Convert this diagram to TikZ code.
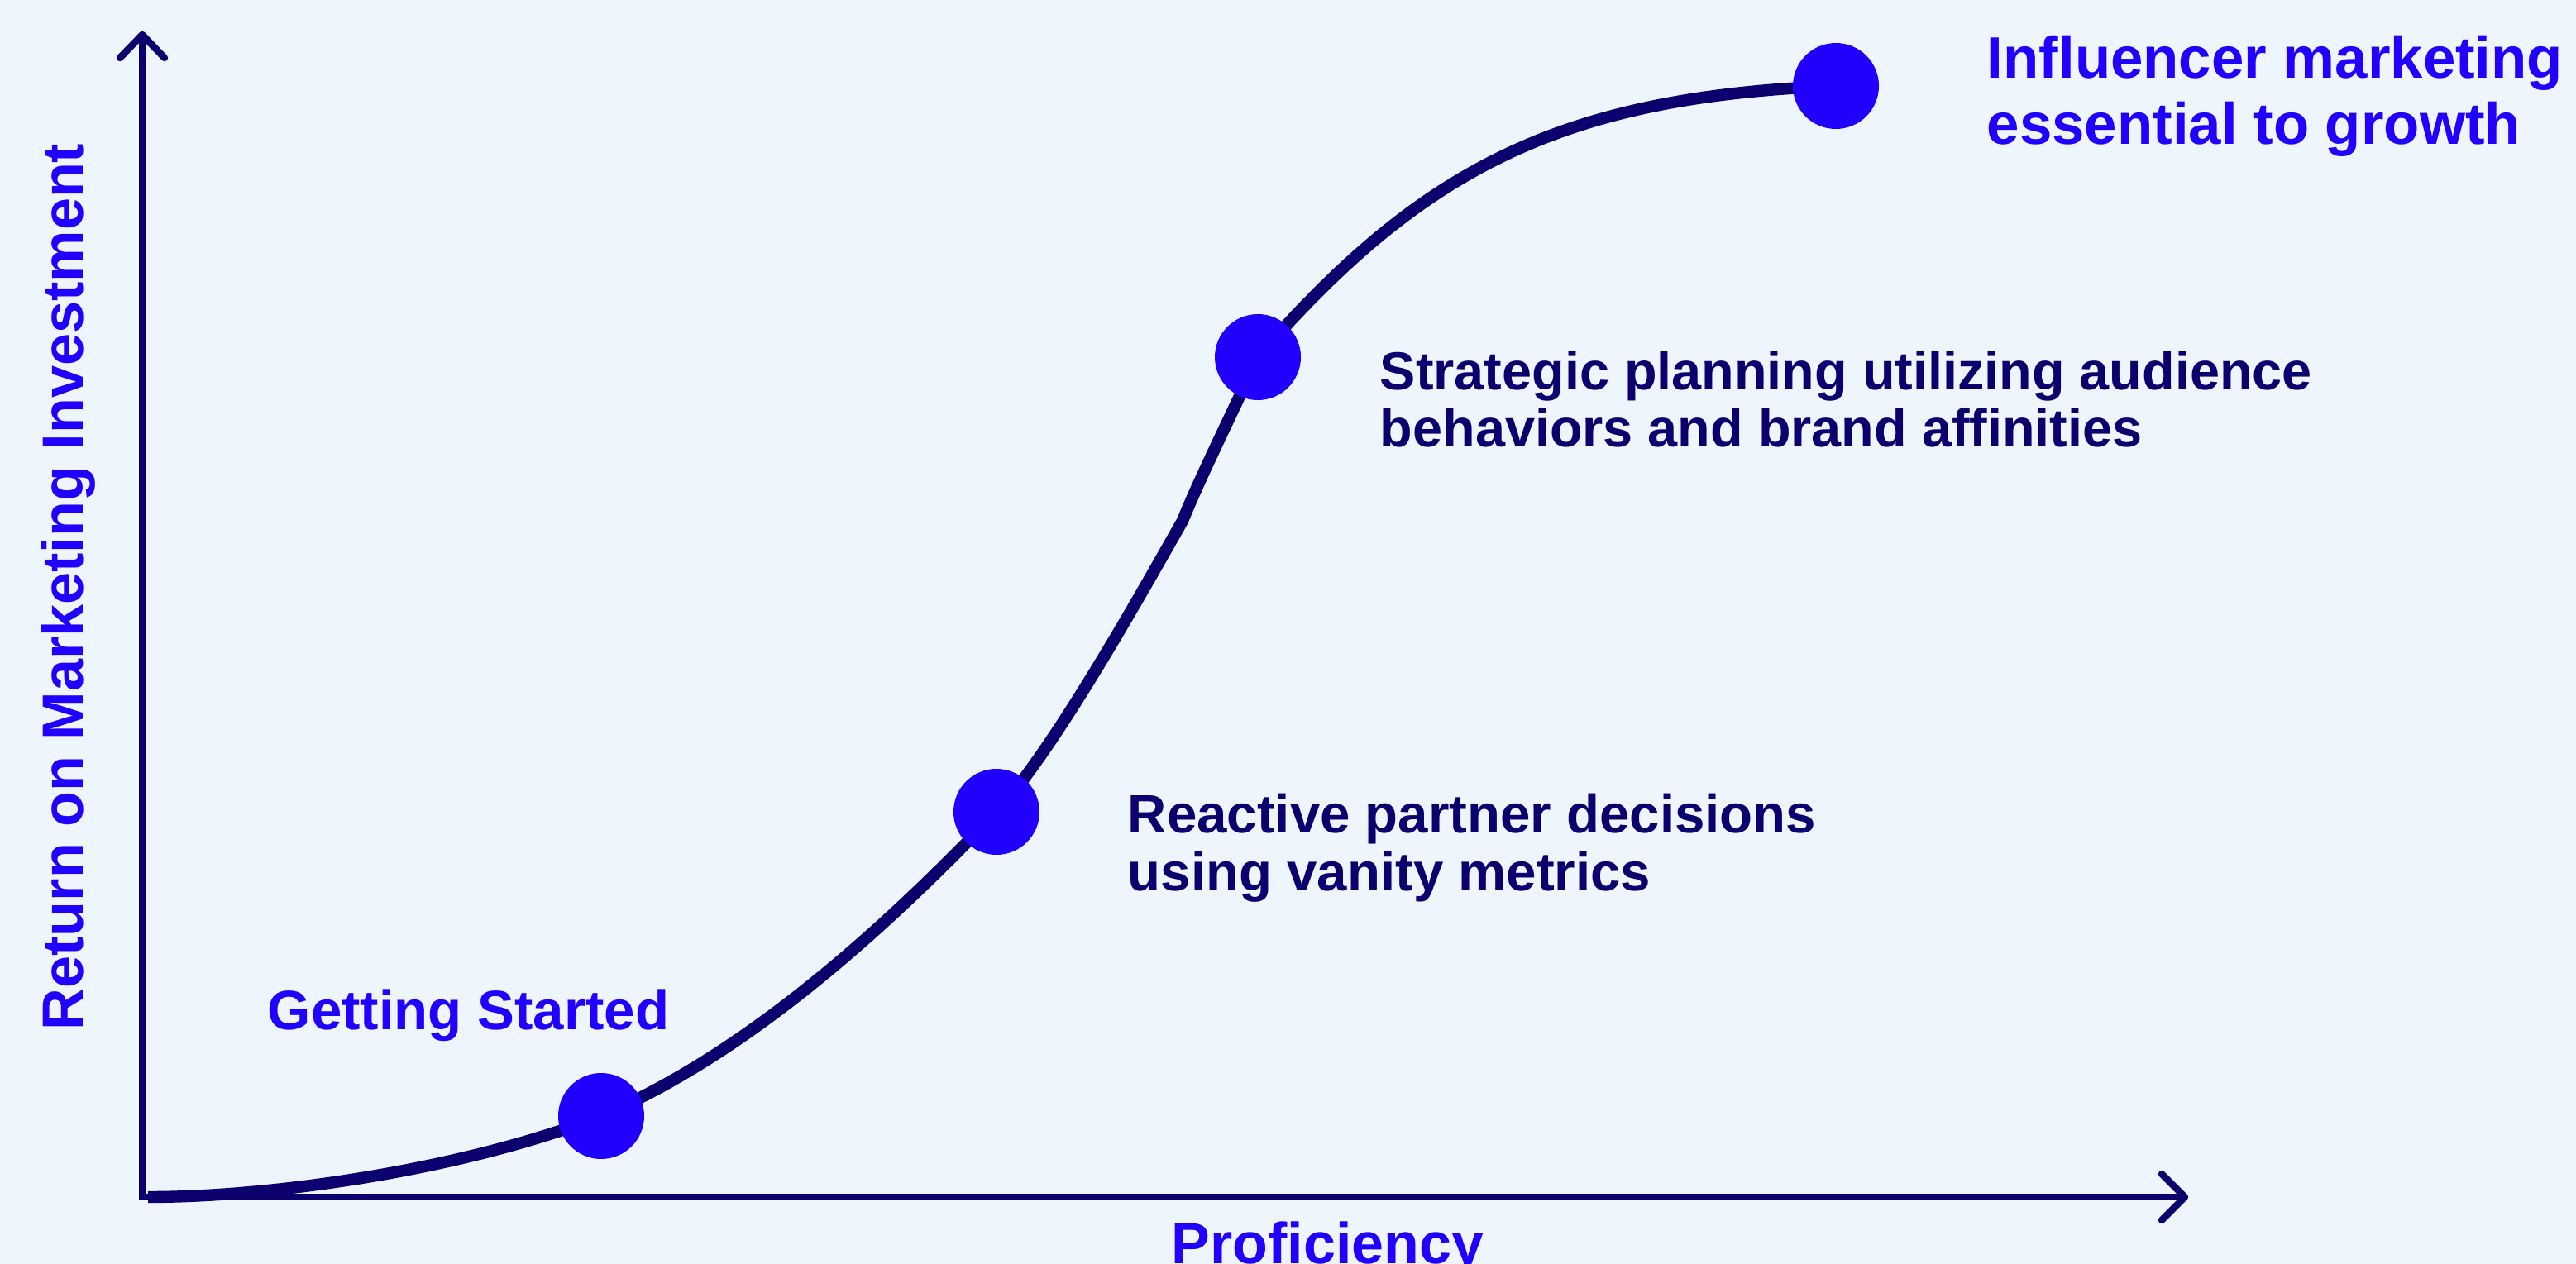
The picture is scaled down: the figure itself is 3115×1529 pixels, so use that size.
\documentclass[tikz,border=0pt]{standalone}
\usepackage{fontspec}
\setmainfont{Liberation Sans}
\usetikzlibrary{calc}
\definecolor{bgc}{HTML}{EEF6FD}
\definecolor{dotblue}{HTML}{2200FF}
\definecolor{navy}{HTML}{0B006E}
\begin{document}
\begin{tikzpicture}[x=0.25pt,y=-0.25pt,
  axisline/.style={draw=navy,line width=2.1pt},
  tipline/.style={draw=navy,line width=2.1pt,line cap=round,line join=round},
  curveline/.style={draw=navy,line width=3.6pt,line join=round},
  dot/.style={circle,fill=dotblue,minimum size=26pt,inner sep=0pt},
  lab/.style={inner sep=0pt,anchor=base west,align=left}]
  % canvas
  \fill[bgc] (0,0) rectangle (3115,1529);
  \useasboundingbox (0,0) rectangle (3115,1529);
  \clip (0,0) rectangle (3115,1529);
  % axes
  \coordinate (O) at (172,1448);
  \coordinate (ytip) at (172,42);
  \coordinate (xtip) at (2642,1448);
  \draw[axisline] (ytip) -- (O) -- (xtip);
  \draw[tipline] ($(ytip)+(-27,28)$) -- (ytip) -- ($(ytip)+(27,28)$);
  \draw[tipline] ($(xtip)+(-28,-28)$) -- (xtip) -- ($(xtip)+(-28,28)$);
  % curve
  \coordinate (c0) at (179,1448);
  \coordinate (p1) at (727,1350);
  \coordinate (p2) at (1205,982);
  \coordinate (k) at (1430,630);
  \coordinate (p3) at (1521,432);
  \coordinate (p4) at (2220,104);
  \draw[curveline] (c0) .. controls (330,1448) and (560,1415) .. (p1)
    .. controls (887,1281) and (1045,1150) .. (p2)
    .. controls (1275,908) and (1390,700) .. (k)
    .. controls (1450,580) and (1496,487) .. (p3)
    .. controls (1721,202) and (1890,117) .. (p4);
  % dots
  \node[dot] (d1) at (p1) {};
  \node[dot] (d2) at (p2) {};
  \node[dot] (d3) at (p3) {};
  \node[dot] (d4) at (p4) {};
  % labels (multi-line nodes: base = last line)
  \node[lab,text=dotblue,font=\fontsize{16.8}{20}\selectfont\bfseries] (gs) at (323,1245) {Getting Started};
  \node[lab,text=navy,font=\fontsize{16.35}{17.5}\selectfont\bfseries] (rp) at (1363,1077) {Reactive partner decisions\\using vanity metrics};
  \node[lab,text=navy,font=\fontsize{16.2}{17.25}\selectfont\bfseries] (sp) at (1668,541) {Strategic planning utilizing audience\\behaviors and brand affinities};
  \node[lab,text=dotblue,font=\fontsize{17.7}{20}\selectfont\bfseries] (im) at (2402,175) {Influencer marketing\\essential to growth};
  \node[lab,text=dotblue,font=\fontsize{17.5}{20}\selectfont\bfseries] (xl) at (1416,1528) {Proficiency};
  \node[lab,text=dotblue,font=\fontsize{17.55}{20}\selectfont\bfseries,rotate=90] (yl) at (100,1247) {Return on Marketing Investment};
\end{tikzpicture}
\end{document}
